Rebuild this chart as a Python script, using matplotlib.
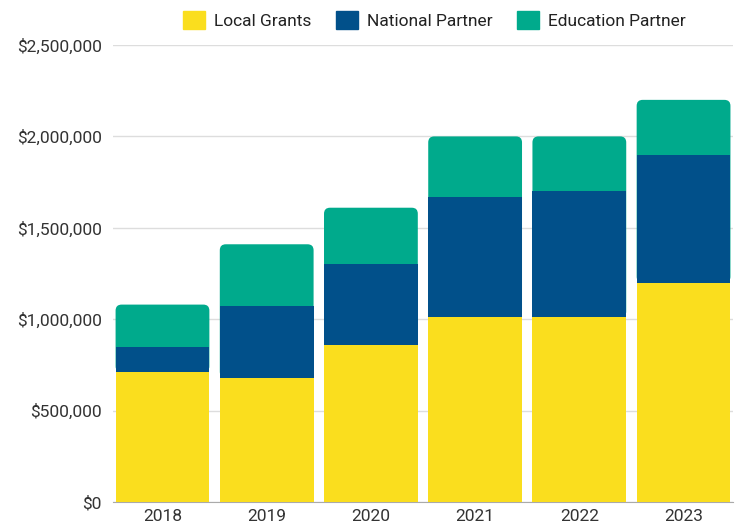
import matplotlib.pyplot as plt
from matplotlib.patches import FancyBboxPatch, Patch
from matplotlib.ticker import FuncFormatter

plt.rcParams['font.family'] = ['Roboto', 'DejaVu Sans']

years = ['2018', '2019', '2020', '2021', '2022', '2023']
local_grants = [710000, 680000, 860000, 1010000, 1010000, 1200000]
national_partner = [140000, 390000, 440000, 660000, 690000, 700000]
education_partner = [230000, 340000, 310000, 330000, 300000, 300000]

c_local = '#FADE1E'
c_nat = '#01508A'
c_edu = '#00AA8C'

fig = plt.figure(figsize=(7.36, 5.26), dpi=100)
ax = fig.add_axes([0.1535, 0.0456, 0.8425, 0.8688])
ax.set_xlim(-0.475, 5.475)
ax.set_ylim(0, 2500000)

x = list(range(len(years)))
w = 0.9
ax.bar(x, local_grants, width=w, color=c_local, zorder=3)
ax.bar(x, national_partner, width=w, bottom=local_grants, color=c_nat, zorder=3)

# top segment with rounded upper corners; lower part is hidden under the blue bar
fig.canvas.draw()
bb = ax.get_window_extent()
px_x = (5.475 + 0.475) / bb.width
px_y = 2500000 / bb.height
aspect = px_y / px_x
for i in x:
    base = local_grants[i]
    top = local_grants[i] + national_partner[i] + education_partner[i]
    p = FancyBboxPatch((i - w / 2, base), w, top - base,
                       boxstyle='round,pad=0,rounding_size=%f' % (6 * px_x),
                       mutation_aspect=aspect, facecolor=c_edu,
                       edgecolor='none', zorder=2)
    ax.add_patch(p)

ax.set_yticks([0, 500000, 1000000, 1500000, 2000000, 2500000])
ax.yaxis.set_major_formatter(FuncFormatter(lambda v, _: '${:,.0f}'.format(v)))
ax.set_xticks(x)
ax.set_xticklabels(years)
ax.grid(axis='y', color='#DDDDDD', linewidth=1, zorder=0)
for s in ['top', 'right', 'left']:
    ax.spines[s].set_visible(False)
ax.spines['bottom'].set_color('#AAAAAA')
ax.tick_params(axis='both', length=0, labelsize=12.5, colors='#333333')
ax.tick_params(axis='y', pad=8)
ax.tick_params(axis='x', pad=5)

handles = [Patch(color=c_local, label='Local Grants'),
           Patch(color=c_nat, label='National Partner'),
           Patch(color=c_edu, label='Education Partner')]
fig.legend(handles=handles, loc='center', bbox_to_anchor=(0.59, 0.962), ncol=3,
           frameon=False, fontsize=12.5, handlelength=1.3, handleheight=1.3,
           handletextpad=0.5, columnspacing=1.4, labelcolor='#222222')

fig.savefig('out.png', dpi=100)
